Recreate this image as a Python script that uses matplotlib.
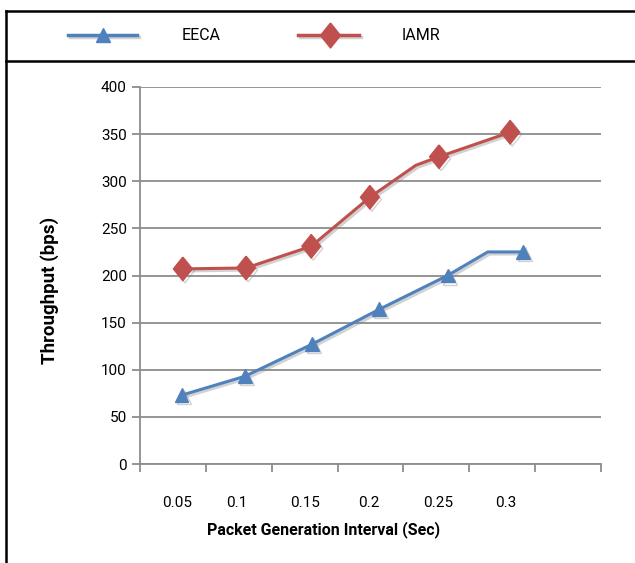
import matplotlib
matplotlib.use('Agg')
import matplotlib.pyplot as plt
import matplotlib.patheffects as pe
from matplotlib.lines import Line2D

plt.rcParams['font.family'] = ['Roboto', 'DejaVu Sans']

# data (x in category slots, slot width = 1)
eeca_x = [0.63, 1.59, 2.61, 3.63, 4.67, 5.28, 5.81]
eeca_y = [73, 93, 127, 164, 200, 225, 225]
eeca_mark = [0, 1, 2, 3, 4, 6]
iamr_x = [0.65, 1.61, 2.60, 3.49, 4.19, 4.54, 5.62]
iamr_y = [207, 208, 231, 283, 317, 326, 352]
iamr_mark = [0, 1, 2, 3, 5, 6]
tick_labels = ['0.05', '0.1', '0.15', '0.2', '0.25', '0.3']
label_pos = [0.56, 1.47, 2.50, 3.47, 4.52, 5.55]

blue = '#4F81BD'
red = '#C0504D'
grid_c = '#8C8C8C'
diamond = [(0, 1), (0.8, 0), (0, -1), (-0.8, 0), (0, 1)]

fig = plt.figure(figsize=(6.35, 5.63), dpi=100)
ax = fig.add_axes([0.2205, 0.1758, 0.726, 0.6697])

shadow = [pe.SimpleLineShadow(offset=(1.5, -1.5), shadow_color='gray', alpha=0.35), pe.Normal()]
ax.plot(eeca_x, eeca_y, color=blue, lw=2.2, marker='^', markersize=10,
        markevery=eeca_mark, path_effects=shadow, zorder=3)
ax.plot(iamr_x, iamr_y, color=red, lw=2.2, marker=diamond, markersize=17,
        markevery=iamr_mark, path_effects=shadow, zorder=3)

ax.set_xlim(0, 7)
ax.set_ylim(0, 400)
ax.set_yticks(range(0, 401, 50))
ax.yaxis.grid(True, color=grid_c, lw=1.3)
ax.set_axisbelow(True)
ax.set_xticks(range(0, 8))
ax.set_xticklabels([])
ax.set_xticks(label_pos, minor=True)
ax.set_xticklabels(tick_labels, minor=True, fontsize=11)
ax.tick_params(axis='x', which='minor', length=0, pad=23)
ax.tick_params(axis='x', which='major', length=6, color=grid_c, width=1.3)
ax.tick_params(axis='y', length=6, color=grid_c, width=1.3, labelsize=11)

for s in ['top', 'right']:
    ax.spines[s].set_visible(False)
for s in ['left', 'bottom']:
    ax.spines[s].set_color(grid_c)
    ax.spines[s].set_linewidth(1.3)

ax.set_ylabel('Throughput (bps)', fontsize=13.5, fontweight='bold')
ax.yaxis.set_label_coords(-0.175, 0.46)
ax.set_xlabel('Packet Generation Interval (Sec)', fontsize=11.5, fontweight='bold')
ax.xaxis.set_label_coords(0.399, -0.152)

# outer frame and legend strip
W, H = 635, 563
fig.add_artist(Line2D([6 / W, 6 / W], [0, 1 - 11 / H], color='black', lw=1.8))
fig.add_artist(Line2D([6 / W, 1], [1 - 11 / H, 1 - 11 / H], color='black', lw=1.8))
fig.add_artist(Line2D([6 / W, 1], [1 - 61 / H, 1 - 61 / H], color='black', lw=1.8))

ly = 1 - 35 / H
fig.add_artist(Line2D([68 / W, 137 / W], [ly, ly], color=blue, lw=2.5,
                      path_effects=shadow))
fig.add_artist(Line2D([103 / W], [ly], color=blue, marker='^', markersize=10, lw=0))
fig.text(182 / W, ly, 'EECA', fontsize=11.5, va='center', ha='left')
fig.add_artist(Line2D([298 / W, 359 / W], [ly, ly], color=red, lw=2.5,
                      path_effects=shadow))
fig.add_artist(Line2D([330 / W], [ly], color=red, marker=diamond, markersize=18, lw=0))
fig.text(402 / W, ly, 'IAMR', fontsize=11.5, va='center', ha='left')

fig.savefig('out.png', dpi=100)
